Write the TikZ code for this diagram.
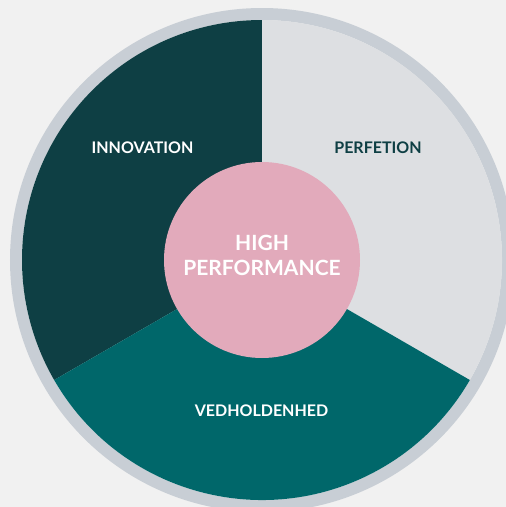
\documentclass[tikz,border=0pt]{standalone}
\usepackage{fontspec}
\setmainfont{Lato}
\definecolor{bgc}{HTML}{F1F1F1}
\definecolor{ringc}{HTML}{C8CED5}
\definecolor{darkteal}{HTML}{0E3F44}
\definecolor{lightgrey}{HTML}{DDDFE2}
\definecolor{tealc}{HTML}{00676A}
\definecolor{pinkc}{HTML}{E2AABB}
\begin{document}
\begin{tikzpicture}[x=1pt,y=-1pt,
  label/.style={font=\fontsize{16}{19}\selectfont\bfseries, inner sep=0pt, text=white},
  center/.style={font=\fontsize{21}{25}\selectfont\bfseries, inner sep=0pt, text=white, align=center}]
\useasboundingbox (0,0) rectangle (506,507);
\clip (0,0) rectangle (506,507);
\fill[bgc] (0,0) rectangle (506,507);
\coordinate (C) at (262,260);
\draw[ringc, line width=12pt] (C) circle[radius=246];
% y axis points down, so angles are mirrored
\fill[darkteal] (C) -- ++(-90:240) arc[start angle=-90, end angle=-210, radius=240] -- cycle;
\fill[lightgrey] (C) -- ++(30:240) arc[start angle=30, end angle=-90, radius=240] -- cycle;
\fill[tealc] (C) -- ++(150:240) arc[start angle=150, end angle=30, radius=240] -- cycle;
\fill[pinkc] (C) circle[radius=98];
\node[label] (inn) at (142.5,148) {INNOVATION};
\node[label, text=darkteal] (per) at (378,148) {PERFETION};
\node[label] (ved) at (261.5,411) {VEDHOLDENHED};
\node[center] (hp) at (262,255) {HIGH\\PERFORMANCE};
\end{tikzpicture}
\end{document}
